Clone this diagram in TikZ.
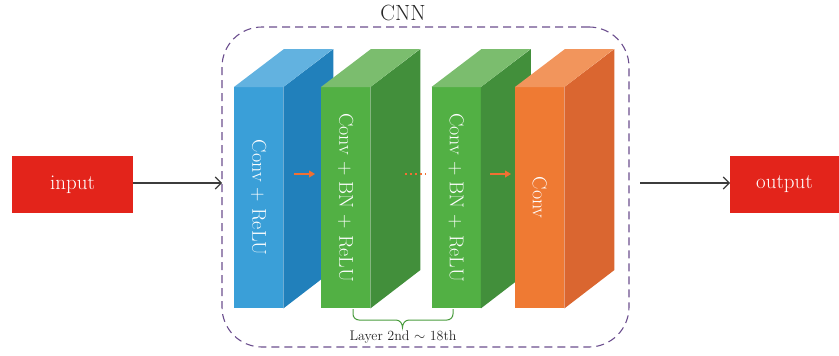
\documentclass[tikz,border=0pt]{standalone}
\usetikzlibrary{arrows.meta}
\definecolor{redbox}{HTML}{E3241B}
\definecolor{bluefront}{HTML}{3A9FD8}
\definecolor{blueside}{HTML}{2180BB}
\definecolor{bluetop}{HTML}{62B2E0}
\definecolor{greenfront}{HTML}{52B044}
\definecolor{greenside}{HTML}{428F3B}
\definecolor{greentop}{HTML}{7BBD6E}
\definecolor{orangefront}{HTML}{EF7A33}
\definecolor{orangeside}{HTML}{DA6630}
\definecolor{orangetop}{HTML}{F2955C}
\definecolor{cnnpurple}{HTML}{6B4E8E}
\definecolor{arrowgray}{HTML}{3C3C3C}
\definecolor{bracegreen}{HTML}{4A9C3E}
\definecolor{oarrowc}{HTML}{F07033}
\tikzset{
  face/.style={inner sep=0pt, minimum width=49pt, minimum height=221pt, anchor=north west},
  blocktext/.style={text=white, rotate=-90, font=\fontsize{20}{22}\selectfont},
  iobox/.style={fill=redbox, text=white, inner sep=0pt, minimum height=57pt, font=\fontsize{21}{23}\selectfont},
  conn/.style={draw=arrowgray, line width=1.1pt, -{Straight Barb[length=6pt,width=12pt,line width=1.1pt]}},
  oarrow/.style={draw=oarrowc, line width=1.1pt, -{Triangle[length=6pt,width=7pt]}},
  cnnbox/.style={draw=cnnpurple, line width=1.1pt, dash pattern=on 8pt off 5pt, rounded corners=40pt, inner sep=0pt, minimum width=407pt, minimum height=320pt},
  bracestyle/.style={draw=bracegreen, line width=1pt},
}
\newcommand{\mkblock}[6]{%
  \node[face, fill=#3] (#1) at (#2,87) {};
  \fill[#4] (#1.north east) -- ++(50,-38) -- ++(0,221) -- (#1.south east) -- cycle;
  \fill[#5] (#1.north west) -- ++(50,-38) -- ++(49,0) -- (#1.north east) -- cycle;
  \node[blocktext] (#1t) at (#1.center) {#6};
}
\begin{document}
\begin{tikzpicture}[x=1pt, y=-1pt]
\useasboundingbox (0,0) rectangle (839,356);
% CNN box
\node[cnnbox] (cnn) at (425.5,187) {};
\node[font=\fontsize{22}{24}\selectfont, text=black!85] (cnnlabel) at (403,13) {CNN};
% io
\node[iobox, minimum width=121pt] (input) at (72.5,184.5) {input};
\node[iobox, minimum width=109pt] (output) at (784.5,184.5) {output};
\coordinate (instart) at (133,183);
\coordinate (cnnin) at (222,183);
\coordinate (cnnout) at (640,183);
\coordinate (outin) at (730,183);
\draw[conn] (instart) -- (cnnin);
\draw[conn] (cnnout) -- (outin);
% blocks
\mkblock{b1}{234}{bluefront}{blueside}{bluetop}{Conv + ReLU}
\mkblock{g1}{321}{greenfront}{greenside}{greentop}{Conv + BN + ReLU}
\mkblock{g2}{431.5}{greenfront}{greenside}{greentop}{Conv + BN + ReLU}
\mkblock{o1}{515}{orangefront}{orangeside}{orangetop}{Conv}
% small arrows
\coordinate (a1s) at (294,174);
\coordinate (a1e) at (315,174);
\coordinate (a2s) at (490,174);
\coordinate (a2e) at (511,174);
\coordinate (d1s) at (405,174);
\coordinate (d1e) at (426,174);
\draw[oarrow] (a1s) -- (a1e);
\draw[oarrow] (a2s) -- (a2e);
\draw[draw=oarrowc, line width=1.3pt, dash pattern=on 1.5pt off 3.5pt] (d1s) -- (d1e);
% brace
\draw[bracestyle] (353,309) -- (353,314) to[out=-90,in=180] (359,320) -- (396,320) to[out=0,in=90] (402.5,327.5) to[out=90,in=180] (409,320) -- (447,320) to[out=0,in=-90] (453,314) -- (453,309);
\node[font=\fontsize{14}{16}\selectfont, text=black!85] (layerlabel) at (403,337) {Layer 2nd $\sim$ 18th};
\end{tikzpicture}
\end{document}
